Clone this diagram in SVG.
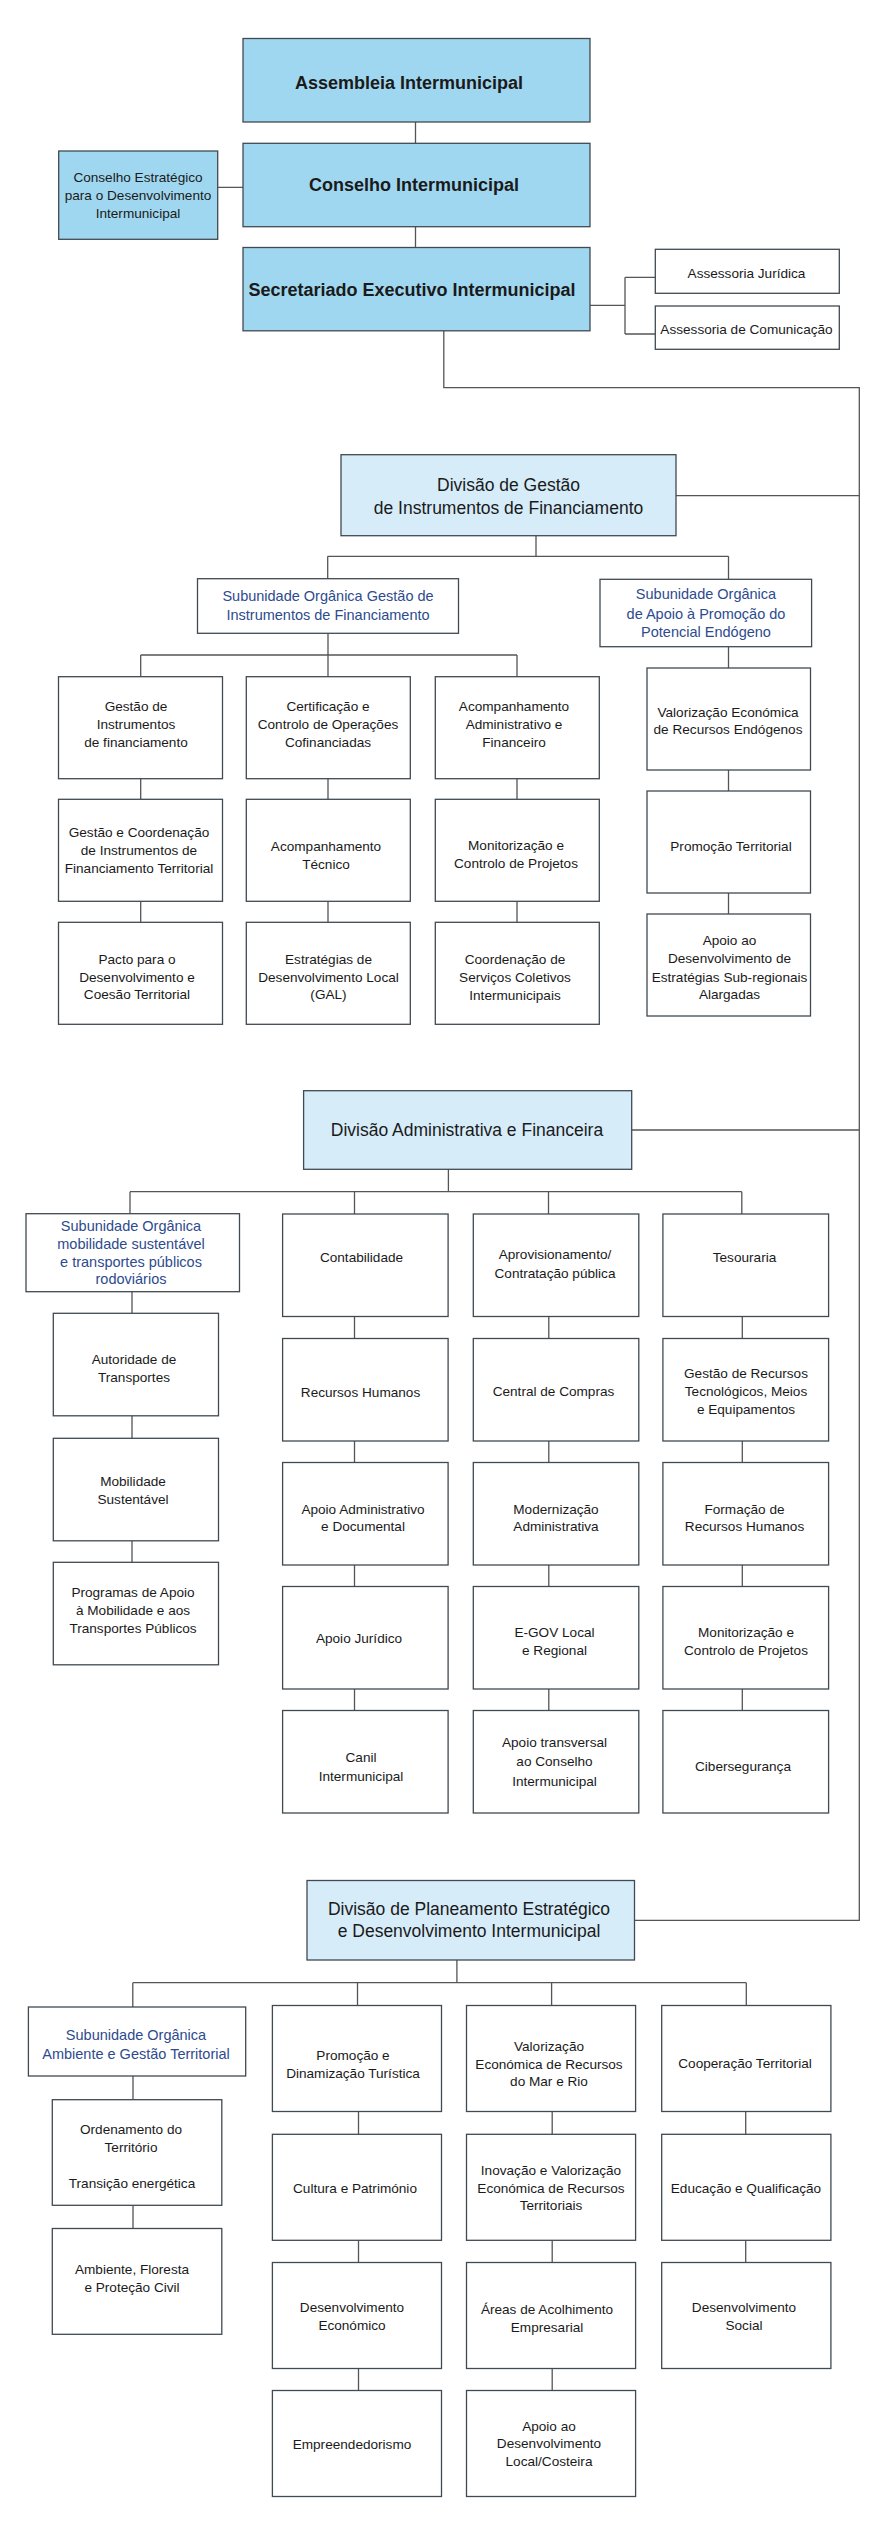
<svg xmlns="http://www.w3.org/2000/svg" width="890" height="2525" viewBox="0 0 890 2525">
<style>
rect{stroke:#404a50;stroke-width:1.3}
rect.bg{stroke:none;fill:#ffffff}
.top{fill:#a0d7f0}
.dv{fill:#d6ecf9}
.bx{fill:#ffffff}
.cn path{fill:none;stroke:#555;stroke-width:1.3}
text{font-family:"Liberation Sans",Arial,sans-serif;text-anchor:middle;fill:#1a1a1a}
.t{font-size:13.6px}
.tb{font-size:18px;font-weight:bold}
.td{font-size:17.5px}
.ts{font-size:14.5px;fill:#2d4b8e}
</style>
<rect class="bg" x="0" y="0" width="890" height="2525"/>
<g class="cn" id="connectors">
<path d="M415.5 122V143.3M217.7 187.3H243M415.5 226.7V247.5M590 305.3H625M625 277.3V334M625 277.3H655.3M625 334H655.3"/>
<path d="M443.8 330.8V387.7H859.3V1920.3H634.5M675.4 495.7H859.3M631.7 1130H859.3"/>
<path d="M536 535.7V556.3M327.7 556.3H728.5M327.7 556.3V578.7M728.5 556.3V579.3M328 633.3V655M140.7 655H517M140.7 655V676.7M328 655V676.7M517 655V676.7M728.5 646.7V668"/>
<path d="M140.7 778.7V799.3M328 778.7V799.3M517 778.7V799.3M140.7 901.3V922.3M328 901.3V922.3M517 901.3V922.3M728.5 770V791M728.5 893V914"/>
<path d="M448.4 1169.3V1191.7M130 1191.7H741.8M130 1191.7V1213.7M354.5 1191.7V1214M548.5 1191.7V1214M741.8 1191.7V1214"/>
<path d="M132 1291.7V1313.3M132 1415.8V1438.3M132 1540.8V1562.3"/>
<path d="M354.5 1316.5V1338.5M354.5 1441V1462.5M354.5 1565V1586.5M354.5 1689V1710.5M548.8 1316.5V1338.5M548.8 1441V1462.5M548.8 1565V1586.5M548.8 1689V1710.5M742.3 1316.5V1338.5M742.3 1441V1462.5M742.3 1565V1586.5M742.3 1689V1710.5"/>
<path d="M456.9 1960V1982.7M132.8 1982.7H746.3M132.8 1982.7V2007M357.5 1982.7V2005.5M551.6 1982.7V2005.5M746.3 1982.7V2005.5"/>
<path d="M133 2076V2099.7M133 2205.3V2228.5M358.5 2111.5V2134.3M358.5 2240.3V2262.5M358.5 2368.5V2390.5M552.2 2111.5V2134.3M552.2 2240.3V2262.5M552.2 2368.5V2390.5M745.7 2111.5V2134.3M745.7 2240.3V2262.5"/>
</g>
<g id="assembleia"><rect class="top" x="243" y="38.5" width="347" height="83.5"/><text class="tb" x="409" y="88.6">Assembleia Intermunicipal</text></g>
<g id="conselho"><rect class="top" x="243" y="143.3" width="347" height="83.4"/><text class="tb" x="414" y="191.3">Conselho Intermunicipal</text></g>
<g id="estrategico"><rect class="top" x="58.7" y="151" width="159" height="88.3"/><text class="t"><tspan x="138" y="182.3">Conselho Estratégico</tspan><tspan x="138" y="200">para o Desenvolvimento</tspan><tspan x="138" y="217.7">Intermunicipal</tspan></text></g>
<g id="secretariado"><rect class="top" x="243" y="247.5" width="347" height="83.3"/><text class="tb" x="412" y="295.6">Secretariado Executivo Intermunicipal</text></g>
<g id="juridica"><rect class="bx" x="655.3" y="249.3" width="184" height="44"/><text class="t" x="746.5" y="277.7">Assessoria Jurídica</text></g>
<g id="comunicacao"><rect class="bx" x="655.3" y="306" width="184" height="43.3"/><text class="t" x="746.5" y="334">Assessoria de Comunicação</text></g>

<g id="div-gestao"><rect class="dv" x="341" y="454.7" width="335" height="81"/><text class="td"><tspan x="508.5" y="491.2">Divisão de Gestão</tspan><tspan x="508.5" y="513.9">de Instrumentos de Financiamento</tspan></text></g>
<g id="sub-gestao"><rect class="bx" x="197.5" y="578.7" width="261" height="54.6"/><text class="ts"><tspan x="328" y="601.2">Subunidade Orgânica Gestão de</tspan><tspan x="328" y="620.2">Instrumentos de Financiamento</tspan></text></g>
<g id="sub-apoio"><rect class="bx" x="600" y="579.3" width="211.6" height="67.4"/><text class="ts"><tspan x="706" y="599.2">Subunidade Orgânica</tspan><tspan x="706" y="618.5">de Apoio à Promoção do</tspan><tspan x="706" y="637.2">Potencial Endógeno</tspan></text></g>
<g id="g-instr"><rect class="bx" x="58.5" y="676.7" width="164" height="102"/><text class="t"><tspan x="136" y="711">Gestão de</tspan><tspan x="136" y="729">Instrumentos</tspan><tspan x="136" y="747">de financiamento</tspan></text></g>
<g id="g-cert"><rect class="bx" x="246.3" y="676.7" width="164" height="102"/><text class="t"><tspan x="328" y="711">Certificação e</tspan><tspan x="328" y="729">Controlo de Operações</tspan><tspan x="328" y="747">Cofinanciadas</tspan></text></g>
<g id="g-acomp"><rect class="bx" x="435.3" y="676.7" width="164" height="102"/><text class="t"><tspan x="514" y="711">Acompanhamento</tspan><tspan x="514" y="729">Administrativo e</tspan><tspan x="514" y="747">Financeiro</tspan></text></g>
<g id="g-valor"><rect class="bx" x="647" y="668" width="163.5" height="102"/><text class="t"><tspan x="728" y="716.7">Valorização Económica</tspan><tspan x="728" y="734.3">de Recursos Endógenos</tspan></text></g>
<g id="g-coord"><rect class="bx" x="58.5" y="799.3" width="164" height="102"/><text class="t"><tspan x="139" y="836.7">Gestão e Coordenação</tspan><tspan x="139" y="855">de Instrumentos de</tspan><tspan x="139" y="872.7">Financiamento Territorial</tspan></text></g>
<g id="g-tec"><rect class="bx" x="246.3" y="799.3" width="164" height="102"/><text class="t"><tspan x="326" y="851">Acompanhamento</tspan><tspan x="326" y="869">Técnico</tspan></text></g>
<g id="g-monit"><rect class="bx" x="435.3" y="799.3" width="164" height="102"/><text class="t"><tspan x="516" y="850.3">Monitorização e</tspan><tspan x="516" y="868.3">Controlo de Projetos</tspan></text></g>
<g id="g-promo"><rect class="bx" x="647" y="791" width="163.5" height="102"/><text class="t" x="731" y="850.7">Promoção Territorial</text></g>
<g id="g-pacto"><rect class="bx" x="58.5" y="922.3" width="164" height="102"/><text class="t"><tspan x="137" y="963.7">Pacto para o</tspan><tspan x="137" y="981.7">Desenvolvimento e</tspan><tspan x="137" y="999.3">Coesão Territorial</tspan></text></g>
<g id="g-gal"><rect class="bx" x="246.3" y="922.3" width="164" height="102"/><text class="t"><tspan x="328.5" y="963.7">Estratégias de</tspan><tspan x="328.5" y="981.7">Desenvolvimento Local</tspan><tspan x="328.5" y="999.3">(GAL)</tspan></text></g>
<g id="g-serv"><rect class="bx" x="435.3" y="922.3" width="164" height="102"/><text class="t"><tspan x="515" y="964.3">Coordenação de</tspan><tspan x="515" y="982.3">Serviços Coletivos</tspan><tspan x="515" y="1000">Intermunicipais</tspan></text></g>
<g id="g-subreg"><rect class="bx" x="647" y="914" width="163.5" height="102"/><text class="t"><tspan x="729.5" y="945.3">Apoio ao</tspan><tspan x="729.5" y="963.3">Desenvolvimento de</tspan><tspan x="729.5" y="981.7">Estratégias Sub-regionais</tspan><tspan x="729.5" y="999">Alargadas</tspan></text></g>

<g id="div-adm"><rect class="dv" x="303.6" y="1090.7" width="328.1" height="78.6"/><text class="td" x="467" y="1136.2">Divisão Administrativa e Financeira</text></g>
<g id="sub-mob"><rect class="bx" x="26" y="1213.7" width="213.5" height="78"/><text class="ts"><tspan x="131" y="1230.9">Subunidade Orgânica</tspan><tspan x="131" y="1249.2">mobilidade sustentável</tspan><tspan x="131" y="1266.9">e transportes públicos</tspan><tspan x="131" y="1284.2">rodoviários</tspan></text></g>
<g id="a-autor"><rect class="bx" x="53.3" y="1313.3" width="165.2" height="102.5"/><text class="t"><tspan x="134" y="1364">Autoridade de</tspan><tspan x="134" y="1381.7">Transportes</tspan></text></g>
<g id="a-mobsus"><rect class="bx" x="53.3" y="1438.3" width="165.2" height="102.5"/><text class="t"><tspan x="133" y="1486.3">Mobilidade</tspan><tspan x="133" y="1504">Sustentável</tspan></text></g>
<g id="a-prog"><rect class="bx" x="53.3" y="1562.3" width="165.2" height="102.5"/><text class="t"><tspan x="133" y="1597.3">Programas de Apoio</tspan><tspan x="133" y="1615.3">à Mobilidade e aos</tspan><tspan x="133" y="1633.3">Transportes Públicos</tspan></text></g>
<g id="a-contab"><rect class="bx" x="282.6" y="1214" width="165.5" height="102.5"/><text class="t" x="361.5" y="1262">Contabilidade</text></g>
<g id="a-rh"><rect class="bx" x="282.6" y="1338.5" width="165.5" height="102.5"/><text class="t" x="360.5" y="1397">Recursos Humanos</text></g>
<g id="a-apadm"><rect class="bx" x="282.6" y="1462.5" width="165.5" height="102.5"/><text class="t"><tspan x="363" y="1513.7">Apoio Administrativo</tspan><tspan x="363" y="1531.3">e Documental</tspan></text></g>
<g id="a-jur"><rect class="bx" x="282.6" y="1586.5" width="165.5" height="102.5"/><text class="t" x="359" y="1643">Apoio Jurídico</text></g>
<g id="a-canil"><rect class="bx" x="282.6" y="1710.5" width="165.5" height="102.5"/><text class="t"><tspan x="361" y="1761.7">Canil</tspan><tspan x="361" y="1781">Intermunicipal</tspan></text></g>
<g id="a-aprov"><rect class="bx" x="473.3" y="1214" width="165.5" height="102.5"/><text class="t"><tspan x="555" y="1259.3">Aprovisionamento/</tspan><tspan x="555" y="1278.3">Contratação pública</tspan></text></g>
<g id="a-central"><rect class="bx" x="473.3" y="1338.5" width="165.5" height="102.5"/><text class="t" x="553.5" y="1396.3">Central de Compras</text></g>
<g id="a-modern"><rect class="bx" x="473.3" y="1462.5" width="165.5" height="102.5"/><text class="t"><tspan x="556" y="1513.7">Modernização</tspan><tspan x="556" y="1531.3">Administrativa</tspan></text></g>
<g id="a-egov"><rect class="bx" x="473.3" y="1586.5" width="165.5" height="102.5"/><text class="t"><tspan x="554.5" y="1637">E-GOV Local</tspan><tspan x="554.5" y="1655">e Regional</tspan></text></g>
<g id="a-transv"><rect class="bx" x="473.3" y="1710.5" width="165.5" height="102.5"/><text class="t"><tspan x="554.5" y="1747.3">Apoio transversal</tspan><tspan x="554.5" y="1766.3">ao Conselho</tspan><tspan x="554.5" y="1785.7">Intermunicipal</tspan></text></g>
<g id="a-tes"><rect class="bx" x="662.9" y="1214" width="165.7" height="102.5"/><text class="t" x="744.5" y="1262">Tesouraria</text></g>
<g id="a-gestrec"><rect class="bx" x="662.9" y="1338.5" width="165.7" height="102.5"/><text class="t"><tspan x="746" y="1378">Gestão de Recursos</tspan><tspan x="746" y="1396">Tecnológicos, Meios</tspan><tspan x="746" y="1413.7">e Equipamentos</tspan></text></g>
<g id="a-form"><rect class="bx" x="662.9" y="1462.5" width="165.7" height="102.5"/><text class="t"><tspan x="744.5" y="1513.7">Formação de</tspan><tspan x="744.5" y="1531.3">Recursos Humanos</tspan></text></g>
<g id="a-monit"><rect class="bx" x="662.9" y="1586.5" width="165.7" height="102.5"/><text class="t"><tspan x="746" y="1637.3">Monitorização e</tspan><tspan x="746" y="1655.3">Controlo de Projetos</tspan></text></g>
<g id="a-ciber"><rect class="bx" x="662.9" y="1710.5" width="165.7" height="102.5"/><text class="t" x="743" y="1771">Cibersegurança</text></g>

<g id="div-plan"><rect class="dv" x="307" y="1880.5" width="327.5" height="79.5"/><text class="td"><tspan x="469" y="1914.5">Divisão de Planeamento Estratégico</tspan><tspan x="469" y="1936.9">e Desenvolvimento Intermunicipal</tspan></text></g>
<g id="sub-amb"><rect class="bx" x="28.4" y="2007" width="217.3" height="69"/><text class="ts"><tspan x="136" y="2039.5">Subunidade Orgânica</tspan><tspan x="136" y="2058.5">Ambiente e Gestão Territorial</tspan></text></g>
<g id="p-orden"><rect class="bx" x="52.3" y="2099.7" width="169.5" height="105.6"/><text class="t"><tspan x="131" y="2134.3">Ordenamento do</tspan><tspan x="131" y="2152.3">Território</tspan><tspan x="132" y="2187.7">Transição energética</tspan></text></g>
<g id="p-amb"><rect class="bx" x="52.3" y="2228.5" width="169.5" height="105.8"/><text class="t"><tspan x="132" y="2274.3">Ambiente, Floresta</tspan><tspan x="132" y="2292">e Proteção Civil</tspan></text></g>
<g id="p-promo"><rect class="bx" x="272.4" y="2005.5" width="169.1" height="106"/><text class="t"><tspan x="353" y="2060.3">Promoção e</tspan><tspan x="353" y="2078.3">Dinamização Turística</tspan></text></g>
<g id="p-cult"><rect class="bx" x="272.4" y="2134.3" width="169.1" height="106"/><text class="t" x="355" y="2192.7">Cultura e Património</text></g>
<g id="p-desec"><rect class="bx" x="272.4" y="2262.5" width="169.1" height="106"/><text class="t"><tspan x="352" y="2312.3">Desenvolvimento</tspan><tspan x="352" y="2330">Económico</tspan></text></g>
<g id="p-empr"><rect class="bx" x="272.4" y="2390.5" width="169.1" height="106"/><text class="t" x="352" y="2449">Empreendedorismo</text></g>
<g id="p-mar"><rect class="bx" x="466.5" y="2005.5" width="169.1" height="106"/><text class="t"><tspan x="549" y="2051">Valorização</tspan><tspan x="549" y="2068.7">Económica de Recursos</tspan><tspan x="549" y="2086.3">do Mar e Rio</tspan></text></g>
<g id="p-inov"><rect class="bx" x="466.5" y="2134.3" width="169.1" height="106"/><text class="t"><tspan x="551" y="2174.7">Inovação e Valorização</tspan><tspan x="551" y="2192.7">Económica de Recursos</tspan><tspan x="551" y="2210.3">Territoriais</tspan></text></g>
<g id="p-areas"><rect class="bx" x="466.5" y="2262.5" width="169.1" height="106"/><text class="t"><tspan x="547" y="2313.7">Áreas de Acolhimento</tspan><tspan x="547" y="2331.7">Empresarial</tspan></text></g>
<g id="p-local"><rect class="bx" x="466.5" y="2390.5" width="169.1" height="106"/><text class="t"><tspan x="549" y="2430.7">Apoio ao</tspan><tspan x="549" y="2448.3">Desenvolvimento</tspan><tspan x="549" y="2466">Local/Costeira</tspan></text></g>
<g id="p-coop"><rect class="bx" x="661.7" y="2005.5" width="169.2" height="106"/><text class="t" x="745" y="2068.3">Cooperação Territorial</text></g>
<g id="p-educ"><rect class="bx" x="661.7" y="2134.3" width="169.2" height="106"/><text class="t" x="746" y="2192.7">Educação e Qualificação</text></g>
<g id="p-social"><rect class="bx" x="661.7" y="2262.5" width="169.2" height="106"/><text class="t"><tspan x="744" y="2311.7">Desenvolvimento</tspan><tspan x="744" y="2330">Social</tspan></text></g>
</svg>
